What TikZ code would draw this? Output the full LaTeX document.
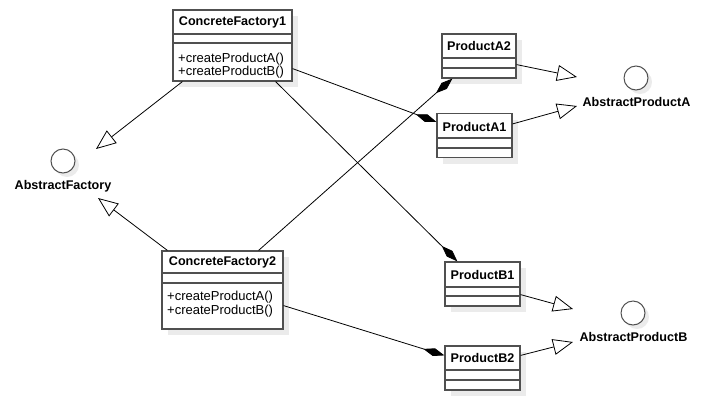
\documentclass[tikz,border=0pt]{standalone}
\usepackage{fontspec}
\setmainfont{Liberation Sans}
\usetikzlibrary{arrows.meta,shadows}
\definecolor{boxline}{HTML}{505050}
\definecolor{shade}{HTML}{EBEBEB}
\tikzset{
  cls/.style={draw=boxline, line width=1.2pt, fill=white, inner sep=0pt,
    drop shadow={shadow xshift=6pt, shadow yshift=-6pt, fill=shade, opacity=1}},
  iface/.style={circle, draw=boxline, line width=1pt, fill=white, inner sep=0pt, minimum size=24pt,
    drop shadow={shadow xshift=4pt, shadow yshift=-4pt, fill=shade, opacity=1}},
  divider/.style={draw=boxline, line width=1.2pt},
  title/.style={font=\fontsize{12.6}{14}\selectfont\bfseries, inner sep=0pt},
  bigtitle/.style={font=\fontsize{12.6}{14}\selectfont\bfseries, inner sep=0pt},
  meth/.style={font=\fontsize{13}{14}\selectfont, inner sep=0pt, anchor=west},
  inh/.style={line width=0.8pt, -{Triangle[open, length=20pt, width=16pt]}},
  comp/.style={line width=0.8pt, -{Diamond[length=22pt, width=8pt]}},
}
\begin{document}
\begin{tikzpicture}[x=1pt,y=-1pt]
\useasboundingbox (0,0) rectangle (706,400);

% ConcreteFactory1
\node[cls, minimum width=119pt, minimum height=71pt] (cf1) at (232.5,45.5) {};
\node[bigtitle] (cf1t) at (232.5,22) {ConcreteFactory1};
\draw[divider] (173,34) -- (292,34);
\draw[divider] (173,43) -- (292,43);
\node[meth] (cf1a) at (178,59) {+createProductA()};
\node[meth] (cf1b) at (178,72) {+createProductB()};

% ConcreteFactory2
\node[cls, minimum width=121pt, minimum height=78pt] (cf2) at (222.5,290) {};
\node[bigtitle] (cf2t) at (222.5,262) {ConcreteFactory2};
\draw[divider] (162,273) -- (283,273);
\draw[divider] (162,283) -- (283,283);
\node[meth] (cf2a) at (167,297) {+createProductA()};
\node[meth] (cf2b) at (167,311) {+createProductB()};

% ProductA2
\node[cls, minimum width=74pt, minimum height=44pt] (pa2) at (479,56) {};
\node[title] (pa2t) at (479,46) {ProductA2};
\draw[divider] (442,58) -- (516,58);
\draw[divider] (442,68) -- (516,68);

% ProductA1
\node[cls, minimum width=75pt, minimum height=44pt] (pa1) at (474.5,135.5) {};
\node[title] (pa1t) at (474.5,127) {ProductA1};
\draw[divider] (437,138) -- (512,138);
\draw[divider] (437,148) -- (512,148);

% ProductB1
\node[cls, minimum width=75pt, minimum height=44pt] (pb1) at (482.5,284) {};
\node[title] (pb1t) at (482.5,275) {ProductB1};
\draw[divider] (445,287) -- (520,287);
\draw[divider] (445,296) -- (520,296);

% ProductB2
\node[cls, minimum width=75pt, minimum height=44pt] (pb2) at (482.5,368) {};
\node[title] (pb2t) at (482.5,358) {ProductB2};
\draw[divider] (445,370) -- (520,370);
\draw[divider] (445,380) -- (520,380);

% Interfaces
\node[iface] (af) at (63,161) {};
\node[title] (afl) at (63,186) {AbstractFactory};
\node[iface] (apa) at (636,78) {};
\node[title] (apal) at (636.5,102) {AbstractProductA};
\node[iface] (apb) at (633,313) {};
\node[title] (apbl) at (633.5,337) {AbstractProductB};

% arrow tip points
\coordinate (tAF1) at (96,149);
\coordinate (tAF2) at (98,198);
\coordinate (tA2) at (577,77);
\coordinate (tA1) at (577,106);
\coordinate (tB1) at (573,309);
\coordinate (tB2) at (573,342);

% generalizations
\draw[inh] ([xshift=10pt]cf1.south west) -- (tAF1);
\draw[inh] ([xshift=6pt]cf2.north west) -- (tAF2);
\draw[inh] ([yshift=14pt]pa2.south east) -- (tA2);
\draw[inh] ([yshift=-11pt]pa1.north east) -- (tA1);
\draw[inh] ([yshift=12pt]pb1.south east) -- (tB1);
\draw[inh] ([yshift=-10pt]pb2.north east) -- (tB2);

% compositions
\draw[comp] ([yshift=13pt]cf1.south east) -- ([yshift=-9pt]pa1.north west);
\draw[comp] ([xshift=-17pt]cf1.south east) -- ([xshift=13pt]pb1.north west);
\draw[comp] ([xshift=-25pt]cf2.north east) -- ([xshift=11pt]pa2.south west);
\draw[comp] ([yshift=24pt]cf2.south east) -- ([yshift=-10pt]pb2.north west);
\end{tikzpicture}
\end{document}
